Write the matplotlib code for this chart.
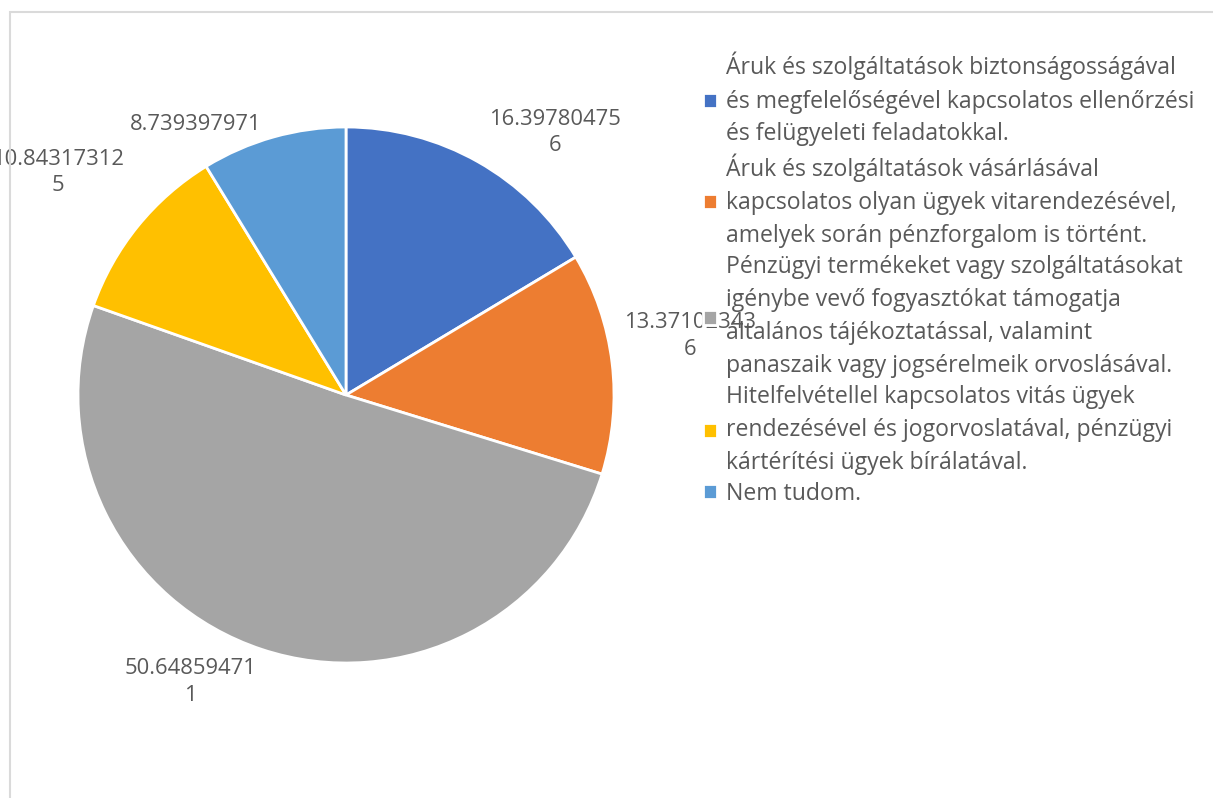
import matplotlib.pyplot as plt
from matplotlib.patches import Rectangle

plt.rcParams['font.family'] = ['Open Sans', 'DejaVu Sans']

# data
categories = [
    'Áruk és szolgáltatások biztonságosságával\nés megfelelőségével kapcsolatos ellenőrzési\nés felügyeleti feladatokkal.',
    'Áruk és szolgáltatások vásárlásával\nkapcsolatos olyan ügyek vitarendezésével,\namelyek során pénzforgalom is történt.',
    'Pénzügyi termékeket vagy szolgáltatásokat\nigénybe vevő fogyasztókat támogatja\náltalános tájékoztatással, valamint\npanaszaik vagy jogsérelmeik orvoslásával.',
    'Hitelfelvétellel kapcsolatos vitás ügyek\nrendezésével és jogorvoslatával, pénzügyi\nkártérítési ügyek bírálatával.',
    'Nem tudom.',
]
values = [16.397804756, 13.371023436, 50.648594711, 10.843173125, 8.739397971]
value_labels = ['16.39780475\n6', '13.37102343\n6', '50.64859471\n1', '10.84317312\n5', '8.739397971']
colors = ['#4472C4', '#ED7D31', '#A5A5A5', '#FFC000', '#5B9BD5']

# where Excel put the data labels (in pie-radius units from the centre)
label_xy = [(0.78, 0.98), (1.285, 0.22), (-0.58, -1.07), (-1.075, 0.83), (-0.56, 1.01)]

txt_color = '#595959'
W, H = 1213, 798

fig = plt.figure(figsize=(W / 100, H / 100), dpi=100)

# light chart frame
fig.patches.append(Rectangle((10 / W, -0.1), 1.2, (H - 12) / H + 0.1, transform=fig.transFigure,
                             fill=False, edgecolor='#DADADA', linewidth=1.5))

cx, cy, r = 346, H - 395, 268
ax = fig.add_axes([(cx - r) / W, (cy - r) / H, 2 * r / W, 2 * r / H])
wedges, _ = ax.pie(values, colors=colors, startangle=90, counterclock=False, radius=1,
                   wedgeprops=dict(edgecolor='white', linewidth=2))
ax.set_xlim(-1, 1)
ax.set_ylim(-1, 1)
ax.set_aspect('equal')
ax.axis('off')

for (x, y), t in zip(label_xy, value_labels):
    ax.text(x, y, t, ha='center', va='center', fontsize=15.8, color=txt_color,
            linespacing=1.35, clip_on=False)

leg = fig.legend(wedges, categories, loc='upper left', bbox_to_anchor=(703 / W, (H - 52) / H),
                 frameon=False, fontsize=16.6, handlelength=0.62, handleheight=0.62,
                 handletextpad=0.38, labelspacing=0.3, borderpad=0, borderaxespad=0)
for t in leg.get_texts():
    t.set_color(txt_color)
    t.set_linespacing(1.5)

fig.savefig('out.png', dpi=100)
